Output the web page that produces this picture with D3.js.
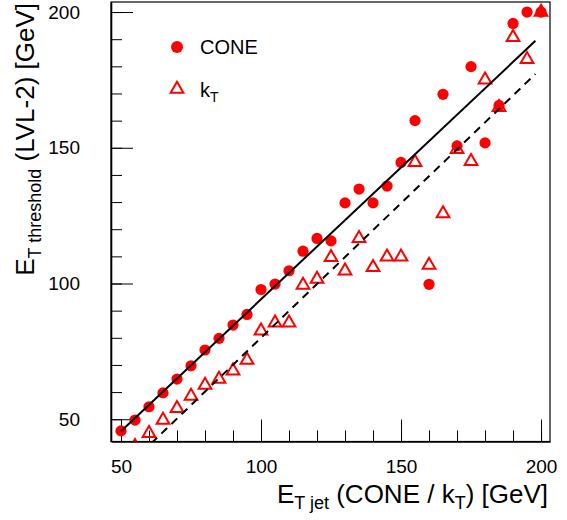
<!DOCTYPE html>
<html>
<head>
<meta charset="utf-8">
<script src="https://cdn.jsdelivr.net/npm/d3@7"></script>
<style>
  html, body { margin: 0; padding: 0; background: #fff; }
  svg { display: block; font-family: "Liberation Sans", Arial, Helvetica, sans-serif; }
</style>
</head>
<body>
<svg id="chart" width="567" height="520"></svg>
<script>
// Jet transverse energy (GeV) at which each LVL-2 threshold is reached
const jetEt = [50, 55, 60, 65, 70, 75, 80, 85, 90, 95, 100, 105, 110, 115, 120, 125,
               130, 135, 140, 145, 150, 155, 160, 165, 170, 175, 180, 185, 190, 195, 200];
const coneThreshold = [45.7, 49.7, 54.6, 59.7, 64.8, 69.7, 75.5, 79.8, 84.7, 88.6, 97.8,
                       99.8, 104.7, 111.9, 116.6, 115.7, 129.7, 134.8, 129.7, 135.9, 144.6,
                       160.0, 99.7, 169.7, 150.7, 179.9, 151.8, 165.6, 195.8, 200.0, 200.0];
const ktJetEt = [55, 60, 65, 70, 75, 80, 85, 90, 95, 100, 105, 110, 115, 120, 125, 130,
                 135, 140, 145, 150, 155, 160, 165, 170, 175, 180, 185, 190, 195, 200];
const ktThreshold = [40.0, 44.8, 49.7, 54.0, 58.5, 62.6, 64.8, 67.8, 71.8, 82.6, 85.5, 85.5,
                     99.4, 101.6, 109.6, 104.7, 116.6, 106.0, 109.8, 109.8, 144.6, 106.8,
                     125.8, 149.4, 145.0, 175.0, 164.9, 190.7, 182.6, 200.0];
// Straight-line fits (end points) for each algorithm
const coneFit = [[50, 45.6], [198, 189.4]];
const ktFit = [[50, 30.4], [198, 177.2]];
// Axis ticks
const majorTicks = [50, 100, 150, 200];
const minorTicksX = d3.range(50, 201, 10);
const minorTicksY = d3.range(50, 201, 10);
const legendLabels = ["CONE", "k"];

const svg = d3.select("#chart");
const frameL = 111, frameR = 550, frameT = 2, frameB = 441.5;
const x = d3.scaleLinear().domain([46.43, 203.2]).range([frameL, frameR]);
const y = d3.scaleLinear().domain([41.8, 203.7]).range([frameB, frameT]);
const red = "#ff0000";

svg.append("defs").append("clipPath").attr("id", "frame")
  .append("rect").attr("x", frameL).attr("y", frameT)
  .attr("width", frameR - frameL).attr("height", frameB - frameT);

// frame
svg.append("rect").attr("x", frameL).attr("y", frameT)
  .attr("width", frameR - frameL).attr("height", frameB - frameT)
  .attr("fill", "none").attr("stroke", "#000").attr("stroke-width", 1.2);

// minor ticks
svg.append("g").attr("transform", `translate(0,${frameB})`)
  .call(d3.axisBottom(x).tickValues(minorTicksX).tickSizeInner(-11).tickSizeOuter(0).tickFormat(""))
  .call(g => g.select(".domain").remove());
svg.append("g").attr("transform", `translate(${frameL},0)`)
  .call(d3.axisLeft(y).tickValues(minorTicksY).tickSizeInner(-11).tickSizeOuter(0).tickFormat(""))
  .call(g => g.select(".domain").remove());

// major ticks with labels
const xAxis = svg.append("g").attr("transform", `translate(0,${frameB})`)
  .call(d3.axisBottom(x).tickValues(majorTicks).tickSizeInner(-22).tickSizeOuter(0).tickPadding(18));
const yAxis = svg.append("g").attr("transform", `translate(${frameL},0)`)
  .call(d3.axisLeft(y).tickValues(majorTicks).tickSizeInner(-22).tickSizeOuter(0).tickPadding(31));
[xAxis, yAxis].forEach(g => {
  g.select(".domain").attr("stroke-width", 1.6);
  g.selectAll("text").attr("font-size", 19).attr("fill", "#000")
    .attr("font-family", "'Liberation Sans', Arial, sans-serif");
});
svg.selectAll(".tick line").attr("stroke", "#000").attr("stroke-width", 1);

// data markers
const plot = svg.append("g").attr("clip-path", "url(#frame)");
plot.selectAll("circle.cone").data(jetEt.map((v, i) => [v, coneThreshold[i]]))
  .join("circle").attr("class", "cone")
  .attr("cx", d => x(d[0])).attr("cy", d => y(d[1])).attr("r", 5.6)
  .attr("fill", red);

const tri = d3.symbol().type(d3.symbolTriangle).size(70);
plot.selectAll("path.kt").data(ktJetEt.map((v, i) => [v, ktThreshold[i]]))
  .join("path").attr("class", "kt")
  .attr("d", tri)
  .attr("transform", d => `translate(${x(d[0])},${y(d[1])})`)
  .attr("fill", "none").attr("stroke", red).attr("stroke-width", 2);

// fit lines
const line = d3.line().x(d => x(d[0])).y(d => y(d[1]));
plot.append("path").attr("d", line(coneFit))
  .attr("fill", "none").attr("stroke", "#000").attr("stroke-width", 2);
plot.append("path").attr("d", line(ktFit))
  .attr("fill", "none").attr("stroke", "#000").attr("stroke-width", 2)
  .attr("stroke-dasharray", "8,6");

// legend
svg.append("circle").attr("cx", 177).attr("cy", 47).attr("r", 6).attr("fill", red);
svg.append("path").attr("d", tri).attr("transform", "translate(177,89)")
  .attr("fill", "none").attr("stroke", red).attr("stroke-width", 2);
svg.append("text").attr("x", 200).attr("y", 54).attr("font-size", 20).text(legendLabels[0]);
const kt = svg.append("text").attr("x", 200).attr("y", 97).attr("font-size", 20);
kt.append("tspan").text(legendLabels[1]);
kt.append("tspan").attr("font-size", 14).attr("dy", 5).text("T");

// x axis title
const xt = svg.append("text").attr("x", 548).attr("y", 503)
  .attr("text-anchor", "end").attr("font-size", 26);
xt.append("tspan").text("E");
xt.append("tspan").attr("font-size", 18).attr("dy", 6).text("T jet");
xt.append("tspan").attr("dy", -6).text(" (CONE / k");
xt.append("tspan").attr("font-size", 18).attr("dy", 6).text("T");
xt.append("tspan").attr("dy", -6).text(") [GeV]");

// y axis title
const yt = svg.append("text").attr("transform", "translate(34,3) rotate(-90)")
  .attr("text-anchor", "end").attr("font-size", 26);
yt.append("tspan").text("E");
yt.append("tspan").attr("font-size", 18).attr("dy", 7).text("T threshold");
yt.append("tspan").attr("dy", -7).text(" (LVL-2) [GeV]");
</script>
</body>
</html>
